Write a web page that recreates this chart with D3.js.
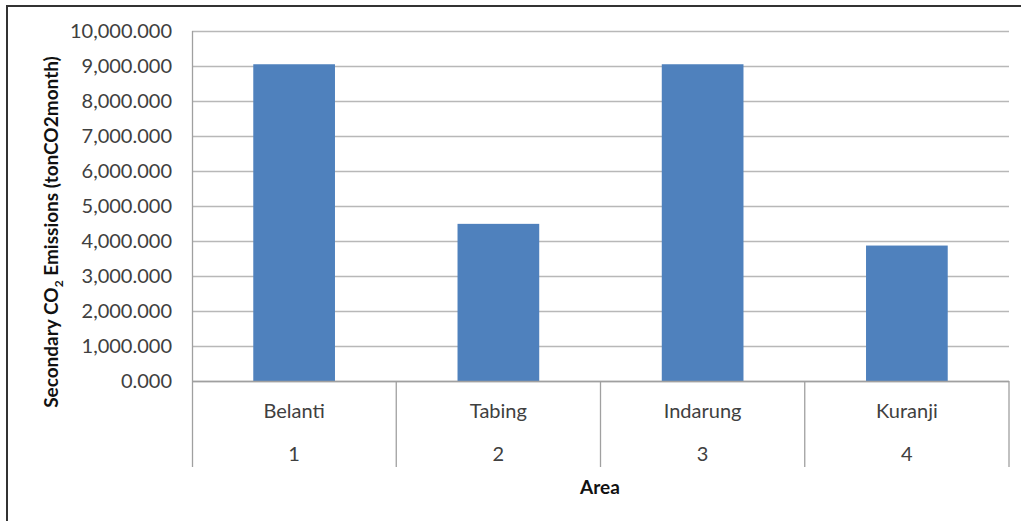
<!DOCTYPE html>
<html>
<head>
<meta charset="utf-8">
<script src="https://cdn.jsdelivr.net/npm/d3@7"></script>
<style>
  body { margin: 0; background: #fff; }
  text { font-family: Lato, "Open Sans", sans-serif; }
</style>
</head>
<body>
<svg id="chart" width="1021" height="521"></svg>
<script>
// chart values
var areas = ["Belanti", "Tabing", "Indarung", "Kuranji"];
var areaNums = ["1", "2", "3", "4"];
var emissions = [9050000, 4490000, 9050000, 3870000];
var yTicks = [0, 1000000, 2000000, 3000000, 4000000, 5000000, 6000000, 7000000, 8000000, 9000000, 10000000];

const plotL = 192, plotR = 1009, plotT = 31, plotB = 381, divB = 467;

var svg = d3.select("#chart");

// outer frame (only top + left show in the photo)
svg.append("rect")
  .attr("x", 7).attr("y", 6)
  .attr("width", 1030).attr("height", 540)
  .attr("fill", "none")
  .attr("stroke", "#333").attr("stroke-width", 2);

var x = d3.scaleBand().domain(areas).range([plotL, plotR]).paddingInner(0.6).paddingOuter(0.3);
var y = d3.scaleLinear().domain([0, 10000000]).range([plotB, plotT]);

// gridlines
svg.append("g")
  .selectAll("line")
  .data(yTicks)
  .enter()
  .append("line")
    .attr("x1", plotL).attr("x2", plotR)
    .attr("y1", function(d) { return Math.round(y(d)) + 0.5; })
    .attr("y2", function(d) { return Math.round(y(d)) + 0.5; })
    .attr("stroke", "#b8b8b8").attr("stroke-width", 1.3);

// y axis
var yAxis = d3.axisLeft(y).tickValues(yTicks).tickSize(0).tickPadding(20)
  .tickFormat(function(d) { return d3.format(",")(d / 1000) + ".000"; });
var gy = svg.append("g").attr("transform", "translate(" + plotL + ",0)").call(yAxis);
gy.select(".domain").remove();
gy.selectAll("text").attr("fill", "#404040").style("font-size", "20px");

svg.append("line")
  .attr("x1", plotL + 0.5).attr("x2", plotL + 0.5)
  .attr("y1", plotT).attr("y2", divB)
  .attr("stroke", "#a0a0a0").attr("stroke-width", 1.3);

// bars
svg.append("g")
  .selectAll("rect")
  .data(emissions)
  .enter()
  .append("rect")
    .attr("x", function(d, i) { return x(areas[i]); })
    .attr("width", x.bandwidth())
    .attr("y", function(d) { return y(d); })
    .attr("height", function(d) { return y(0) - y(d); })
    .attr("fill", "#4f81bd");

// category dividers
var dividers = d3.range(1, areas.length + 1).map(function(i) { return plotL + i * (plotR - plotL) / areas.length; });
svg.append("g")
  .selectAll("line")
  .data(dividers)
  .enter()
  .append("line")
    .attr("x1", function(d) { return d; }).attr("x2", function(d) { return d; })
    .attr("y1", plotB).attr("y2", divB)
    .attr("stroke", "#a0a0a0").attr("stroke-width", 1.3);

svg.append("line")
  .attr("x1", plotL).attr("x2", plotR)
  .attr("y1", plotB + 0.5).attr("y2", plotB + 0.5)
  .attr("stroke", "#a0a0a0").attr("stroke-width", 1.3);

// category labels
var cx = function(i) { return x(areas[i]) + x.bandwidth() / 2; };
svg.append("g").selectAll("text").data(areas).enter().append("text")
  .attr("x", function(d, i) { return cx(i); })
  .attr("y", 418)
  .attr("text-anchor", "middle")
  .attr("fill", "#404040")
  .style("font-size", "20px")
  .text(function(d) { return d; });

svg.append("g").selectAll("text").data(areaNums).enter().append("text")
  .attr("x", function(d, i) { return cx(i); })
  .attr("y", 461)
  .attr("text-anchor", "middle")
  .attr("fill", "#404040")
  .style("font-size", "20px")
  .text(function(d) { return d; });

// axis titles
svg.append("text")
  .attr("x", 600).attr("y", 494)
  .attr("text-anchor", "middle")
  .style("font-size", "19px").style("font-weight", "bold")
  .attr("fill", "#111")
  .text("Area");

var yt = svg.append("text")
  .attr("transform", "translate(58,232) rotate(-90)")
  .attr("text-anchor", "middle")
  .style("font-size", "19px").style("font-weight", "bold")
  .attr("fill", "#111");
yt.append("tspan").text("Secondary CO");
yt.append("tspan").attr("dy", 5).style("font-size", "12px").text("2");
yt.append("tspan").attr("dy", -5).text(" Emissions (tonCO2month)");
</script>
</body>
</html>
